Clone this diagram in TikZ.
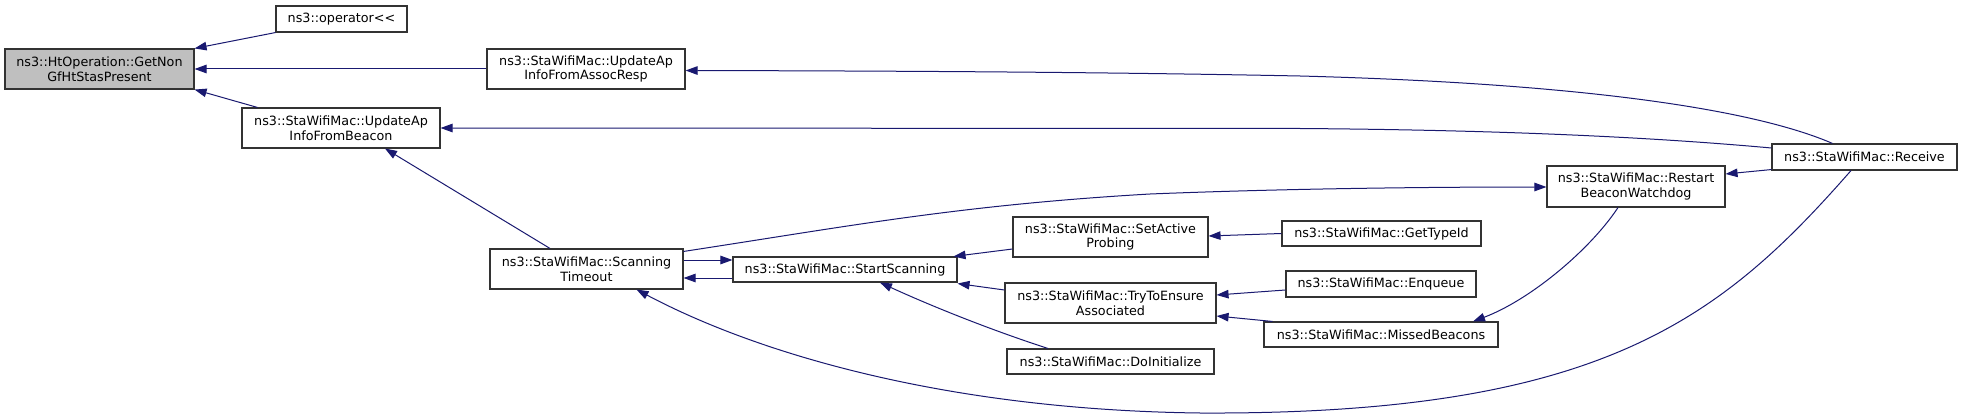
\documentclass[tikz,border=0pt]{standalone}
\usepackage{fontspec}
\setmainfont{DejaVu Sans}[Ligatures=TeXOff]
\usetikzlibrary{arrows.meta,calc}
\definecolor{edgeblue}{HTML}{191970}
\definecolor{boxline}{HTML}{333333}
\definecolor{focusfill}{HTML}{BFBFBF}
\begin{document}
\begin{tikzpicture}[x=1pt,y=-1pt,
  fn/.style={draw=boxline, line width=1.1pt, fill=white, inner sep=0pt, align=center,
    font=\fontsize{12.75}{14.5}\selectfont},
  focus/.style={fn, fill=focusfill},
  call/.style={draw=edgeblue, line width=1pt, {Triangle[length=12pt,width=8.5pt]}-}]
\useasboundingbox (0,0) rectangle (1963,417);
\fill[white] (0,0) rectangle (1963,417);

\node[focus, minimum width=189, minimum height=40] (A) at (99.5,69) {ns3::HtOperation::GetNon\\GfHtStasPresent};
\node[fn, minimum width=131, minimum height=26] (B) at (341.5,19) {ns3::operator<\kern0pt<};
\node[fn, minimum width=198, minimum height=40] (C) at (586,69) {ns3::StaWifiMac::UpdateAp\\InfoFromAssocResp};
\node[fn, minimum width=198, minimum height=40] (D) at (341,128) {ns3::StaWifiMac::UpdateAp\\InfoFromBeacon};
\node[fn, minimum width=193, minimum height=40] (E) at (586.5,269) {ns3::StaWifiMac::Scanning\\Timeout};
\node[fn, minimum width=224, minimum height=25] (F) at (845,269.5) {ns3::StaWifiMac::StartScanning};
\node[fn, minimum width=195, minimum height=40] (G) at (1110.5,237) {ns3::StaWifiMac::SetActive\\Probing};
\node[fn, minimum width=199, minimum height=25] (H) at (1381.5,233.5) {ns3::StaWifiMac::GetTypeId};
\node[fn, minimum width=211, minimum height=40] (I) at (1110.5,303) {ns3::StaWifiMac::TryToEnsure\\Associated};
\node[fn, minimum width=190, minimum height=26] (J) at (1381,284) {ns3::StaWifiMac::Enqueue};
\node[fn, minimum width=234, minimum height=25] (K) at (1381,334.5) {ns3::StaWifiMac::MissedBeacons};
\node[fn, minimum width=207, minimum height=25] (L) at (1110.5,361.5) {ns3::StaWifiMac::DoInitialize};
\node[fn, minimum width=178, minimum height=41] (M) at (1636,186.5) {ns3::StaWifiMac::Restart\\BeaconWatchdog};
\node[fn, minimum width=185, minimum height=26] (N) at (1864.5,157) {ns3::StaWifiMac::Receive};

\draw[call] (A.north east) -- (B.south west);
\draw[call] (A.east) -- (C.west);
\draw[call] (A.south east) -- ($(D.north west)+(16,0)$);
\draw[call] ($(C.east)+(0,1.5)$) .. controls (900,71) and (1100,72) .. (1300,76) .. controls (1600,84) and (1760,112) .. ($(N.north)+(-32,0)$);
\draw[call] (D.east) -- (1300,128.5) .. controls (1500,130) and (1650,137) .. ($(N.west)+(0,-9)$);
\draw[call] ($(D.south)+(44,0)$) -- ($(E.north)+(-36.5,0)$);
\draw[call] ($(F.west)+(0,-9.5)$) -- ($(E.east)+(0,-9)$);
\draw[call] ($(E.east)+(0,9)$) -- ($(F.west)+(0,8.5)$);
\draw[call] ($(M.west)+(0,0.5)$) .. controls (1450,187) and (1300,188) .. (1150,194) .. controls (960,205) and (850,226) .. ($(E.north east)+(0,3)$);
\draw[call] ($(M.east)+(0,-12.5)$) -- ($(N.south west)+(0,-1)$);
\draw[call] ($(E.south)+(50,0)$) .. controls (760,355) and (950,410) .. (1200,413) .. controls (1600,415) and (1720,320) .. ($(N.south)+(-13.5,0)$);
\draw[call] ($(F.north east)+(-4,0)$) -- ($(G.west)+(0,12)$);
\draw[call] ($(F.south east)+(0,1)$) -- ($(I.west)+(0,-13)$);
\draw[call] ($(F.south)+(35,0)$) .. controls (940,310) and (1000,333) .. ($(L.north)+(-62.5,0)$);
\draw[call] ($(G.east)+(0,-1)$) -- (H.west);
\draw[call] ($(I.east)+(0,-8)$) -- ($(J.west)+(0,6)$);
\draw[call] ($(I.east)+(0,13)$) -- ($(K.north west)+(9,0)$);
\draw[call] ($(K.north)+(92,0)$) .. controls (1530,300) and (1590,250) .. ($(M.south)+(-18,0)$);
\end{tikzpicture}
\end{document}
